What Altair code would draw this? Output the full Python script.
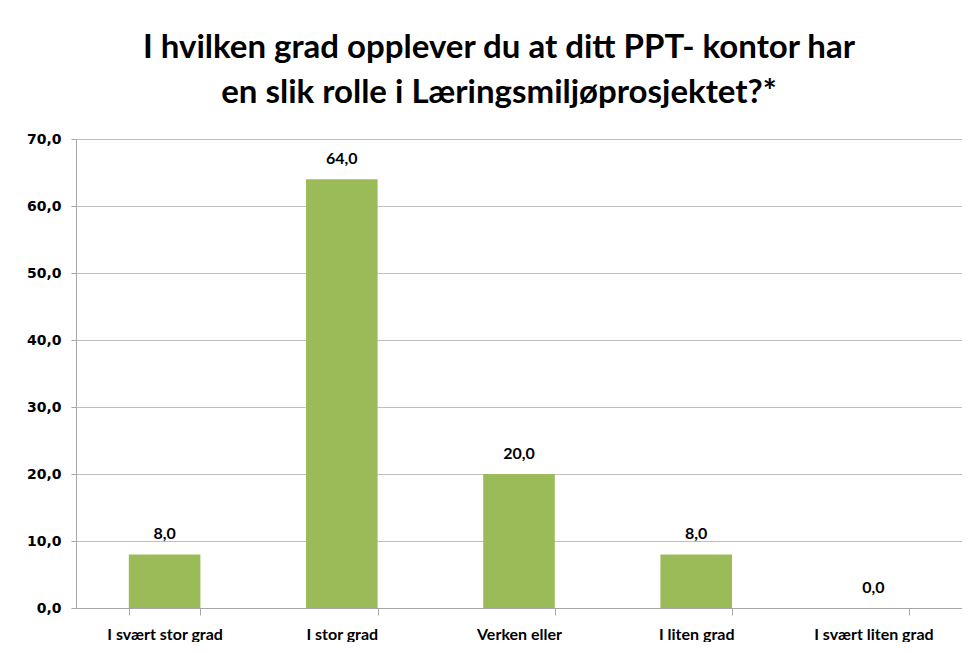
import altair as alt
import pandas as pd

categories = ["I svært stor grad", "I stor grad", "Verken eller", "I  liten grad", "I svært liten grad"]
values = [8.0, 64.0, 20.0, 8.0, 0.0]
title_lines = ["I hvilken grad opplever du at ditt PPT- kontor har",
               "en slik rolle i Læringsmiljøprosjektet?*"]
bar_color = "#9BBB59"

df = pd.DataFrame({"category": categories, "value": values})
df["label"] = [f"{v:.1f}".replace(".", ",") for v in values]

x_enc = alt.X(
    "category:N", sort=categories, title=None,
    scale=alt.Scale(paddingInner=0.596, paddingOuter=0.298),
    axis=alt.Axis(labelAngle=0, tickBand="extent", labelFont="Lato", labelFontWeight="bold",
                  labelFontSize=16, labelColor="#000000", labelPadding=11,
                  domainColor="#A6A6A6", tickColor="#A6A6A6", tickSize=7, grid=False),
)
y_enc = alt.Y(
    "value:Q", title=None,
    scale=alt.Scale(domain=[0, 70]),
    axis=alt.Axis(values=[0, 10, 20, 30, 40, 50, 60, 70],
                  labelExpr="replace(format(datum.value, '.1f'), '.', ',')",
                  labelFont="DejaVu Sans", labelFontWeight="bold", labelFontSize=14,
                  labelColor="#000000", labelPadding=10,
                  domainColor="#A6A6A6", tickColor="#A6A6A6", tickSize=5,
                  grid=True, gridColor="#BFBFBF"),
)

bars = alt.Chart(df).mark_bar(color=bar_color).encode(x=x_enc, y=y_enc)
labels = alt.Chart(df).mark_text(
    dy=-12, baseline="bottom", font="Lato", fontWeight="bold", fontSize=16, color="#000000"
).encode(x=alt.X("category:N", sort=categories), y="value:Q", text="label:N")

chart = (bars + labels).properties(
    width=886, height=469,
    title=alt.TitleParams(title_lines, font="Lato", fontSize=33, fontWeight="bold",
                          color="#000000", anchor="middle", dx=-20, offset=22, lineHeight=45),
).configure_view(stroke=None).configure(padding={"left": 18, "top": 24, "right": 0, "bottom": 0})

chart.save("out.html", embed_options={"renderer": "svg", "actions": False})
